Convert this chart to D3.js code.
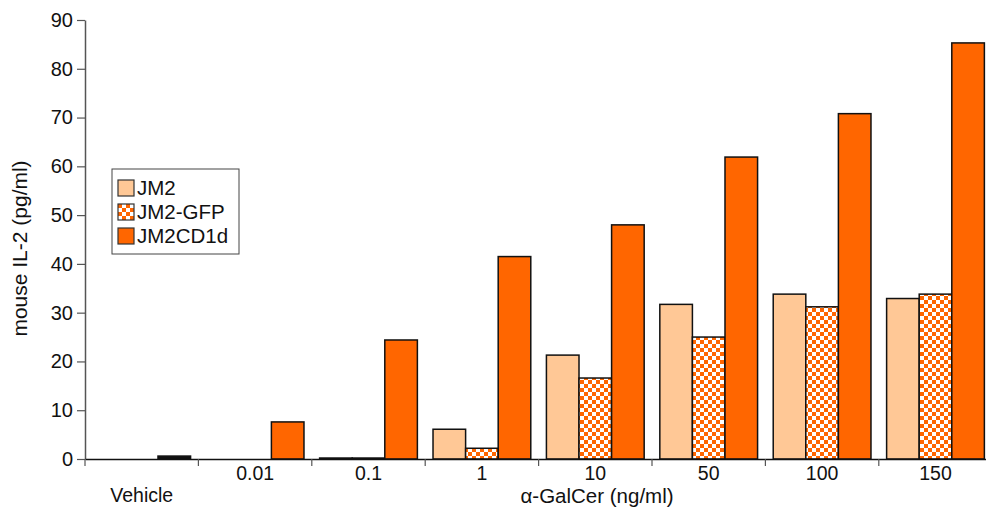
<!DOCTYPE html>
<html>
<head>
<meta charset="utf-8">
<script src="https://cdn.jsdelivr.net/npm/d3@7"></script>
<style>
  body { margin: 0; background: #fff; }
  svg { display: block; font-family: "Liberation Sans", Arial, sans-serif; }
</style>
</head>
<body>
<svg id="chart" width="986" height="508"></svg>
<script>
const categories = ['Vehicle', '0.01', '0.1', '1', '10', '50', '100', '150'];
const seriesNames = ['JM2', 'JM2-GFP', 'JM2CD1d'];
const jm2 = [0, 0, 0.2, 6.1, 21.3, 31.7, 33.8, 32.9];
const jm2gfp = [0, 0, 0.2, 2.2, 16.6, 25.0, 31.2, 33.8];
const jm2cd1d = [0.6, 7.6, 24.4, 41.5, 48.0, 61.9, 70.8, 85.3];
const yTicks = [0, 10, 20, 30, 40, 50, 60, 70, 80, 90];

const seriesValues = [jm2, jm2gfp, jm2cd1d];
const fills = ['#ffc896', 'url(#checker)', '#ff6600'];
const font = '"Liberation Sans", Arial, sans-serif';

const svg = d3.select('#chart');
const margin = { top: 20, left: 85, bottom: 49 };
const height = 508;
const plotBottom = height - margin.bottom;

// checker pattern for the GFP series
const defs = svg.append('defs');
const pat = defs.append('pattern')
  .attr('id', 'checker')
  .attr('patternUnits', 'userSpaceOnUse')
  .attr('width', 8).attr('height', 8);
pat.append('rect').attr('width', 8).attr('height', 8).attr('fill', '#fff');
pat.append('rect').attr('width', 4).attr('height', 4).attr('fill', '#ff6600');
pat.append('rect').attr('x', 4).attr('y', 4).attr('width', 4).attr('height', 4).attr('fill', '#ff6600');

const x = d3.scaleBand()
  .domain(categories)
  .range([margin.left, margin.left + 113.4 * categories.length]);

const xInner = d3.scaleBand()
  .domain(seriesNames)
  .range([0, x.bandwidth()])
  .paddingOuter(0.24);

const y = d3.scaleLinear()
  .domain([0, 90])
  .range([plotBottom, margin.top]);

// bars
seriesNames.forEach((name, si) => {
  svg.append('g')
    .selectAll('rect')
    .data(categories.map((c, i) => ({ c, v: seriesValues[si][i] })).filter(d => d.v > 0))
    .enter().append('rect')
      .attr('x', d => x(d.c) + xInner(name))
      .attr('y', d => y(d.v))
      .attr('width', xInner.bandwidth())
      .attr('height', d => plotBottom - y(d.v))
      .attr('fill', d => d.v < 1 ? '#111' : fills[si])
      .attr('stroke', '#111')
      .attr('stroke-width', 1.5);
});

// y axis
const yAxis = svg.append('g')
  .attr('transform', `translate(${margin.left},0)`)
  .call(d3.axisLeft(y).tickValues(yTicks).tickSize(8).tickSizeOuter(0).tickPadding(4));
yAxis.selectAll('text').attr('font-size', 20).attr('fill', '#111')
  .style('font-family', font);
yAxis.select('.domain').attr('stroke', '#555').attr('stroke-width', 1.5);
yAxis.selectAll('.tick line').attr('stroke', '#555').attr('stroke-width', 1.2);

// x axis baseline and labels
const xAxis = svg.append('g')
  .attr('transform', `translate(0,${plotBottom})`)
  .call(d3.axisBottom(x).tickSize(0).tickPadding(0));
xAxis.select('.domain').attr('stroke', '#111').attr('stroke-width', 1.5);
xAxis.selectAll('text').attr('font-size', 19.5).attr('fill', '#111')
  .style('font-family', font)
  .attr('y', d => d === 'Vehicle' ? 43 : 21)
  .attr('dy', 0);

// ticks at category boundaries
svg.append('g')
  .selectAll('line')
  .data(categories)
  .enter().append('line')
    .attr('x1', d => x(d)).attr('x2', d => x(d))
    .attr('y1', plotBottom).attr('y2', plotBottom + 7)
    .attr('stroke', '#555').attr('stroke-width', 1.2);

// axis titles
svg.append('text')
  .attr('transform', `translate(27,${(margin.top + plotBottom) / 2 + 9}) rotate(-90)`)
  .attr('text-anchor', 'middle')
  .attr('font-size', 21)
  .attr('fill', '#111')
  .text('mouse IL-2 (pg/ml)');

svg.append('text')
  .attr('x', 597).attr('y', 503)
  .attr('text-anchor', 'middle')
  .attr('font-size', 20.5)
  .attr('fill', '#111')
  .text('α-GalCer (ng/ml)');

// legend
const legend = svg.append('g').attr('transform', 'translate(112,169)');
legend.append('rect')
  .attr('width', 127).attr('height', 85)
  .attr('fill', '#fff').attr('stroke', '#444').attr('stroke-width', 1);
seriesNames.forEach((name, i) => {
  const row = legend.append('g').attr('transform', `translate(6,${11 + i * 24})`);
  row.append('rect')
    .attr('width', 16).attr('height', 16)
    .attr('fill', fills[i]).attr('stroke', '#333').attr('stroke-width', 1.2);
  row.append('text')
    .attr('x', 19).attr('y', 15)
    .attr('font-size', 20.5).attr('fill', '#111')
    .text(name);
});
</script>
</body>
</html>
